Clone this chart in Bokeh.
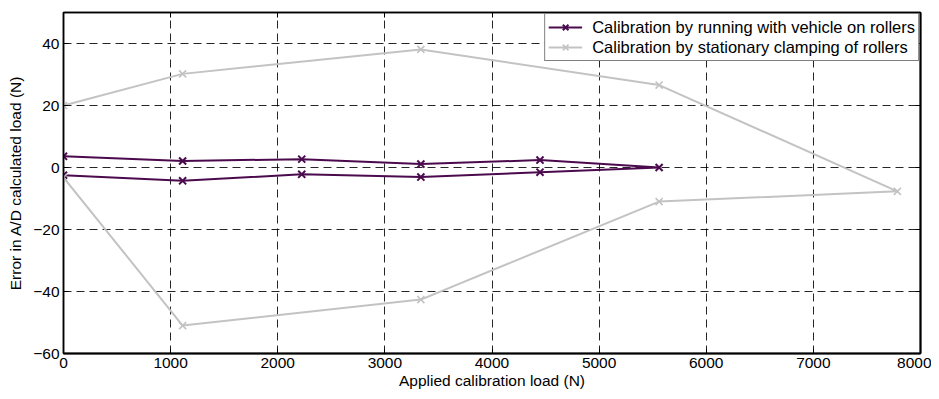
from bokeh.plotting import figure
from bokeh.models import LinearAxis, Range1d, FixedTicker, Legend, LegendItem, CustomJSTickFormatter
from bokeh.embed import file_html
from bokeh.resources import INLINE

# Loop order: outward (increasing load) then return (decreasing load)
run_x = [0, 1112, 2224, 3336, 4448, 5560, 4448, 3336, 2224, 1112, 0]
run_y = [3.6, 2.1, 2.7, 1.1, 2.4, 0.0, -1.5, -3.1, -2.2, -4.3, -2.5]

clamp_x = [0, 1112, 3336, 5560, 7784, 5560, 3336, 1112, 0]
clamp_y = [20.0, 30.2, 38.1, 26.6, -7.7, -11.0, -42.6, -51.0, -3.2]

x_ticks = [0, 1000, 2000, 3000, 4000, 5000, 6000, 7000, 8000]
y_ticks = [-60, -40, -20, 0, 20, 40]

FONT = "Liberation Sans"
PURPLE = "#4B0A4D"
GRAY = "#C3C3C3"

p = figure(width=931, height=391, output_backend="svg", toolbar_location=None,
           x_range=Range1d(0, 8000), y_range=Range1d(-60, 50),
           min_border_left=63, min_border_right=11, min_border_top=12, min_border_bottom=37)
p.outline_line_color = "black"
p.outline_line_width = 1.5
p.background_fill_color = "white"
p.border_fill_color = "white"

# grid
for g in (p.xgrid, p.ygrid):
    g.grid_line_color = "black"
    g.grid_line_dash = "8 5"
    g.grid_line_width = 1
    g.grid_line_alpha = 0.85
p.xgrid.ticker = FixedTicker(ticks=x_ticks)
p.ygrid.ticker = FixedTicker(ticks=y_ticks)

def style_axis(ax, ticks):
    ax.ticker = FixedTicker(ticks=ticks)
    ax.minor_tick_line_color = None
    ax.major_tick_in = 5
    ax.major_tick_out = 0
    ax.axis_line_color = "black"
    ax.axis_line_width = 1.5
    ax.major_tick_line_color = "black"
    ax.major_tick_line_width = 1
    ax.major_label_text_font = FONT
    ax.major_label_text_font_size = "15.5px"
    ax.major_label_text_color = "black"
    ax.axis_label_text_font = FONT
    ax.axis_label_text_font_size = "15.5px"
    ax.axis_label_text_font_style = "normal"
    ax.axis_label_text_color = "black"
    ax.major_label_standoff = 4

style_axis(p.xaxis[0], x_ticks)
style_axis(p.yaxis[0], y_ticks)
p.xaxis[0].axis_line_width = 2
p.xaxis[0].axis_label = "Applied calibration load (N)"
p.xaxis[0].axis_label_standoff = 1
p.yaxis[0].axis_label = "Error in A/D calculated load (N)"
p.yaxis[0].axis_label_standoff = 6

blank = CustomJSTickFormatter(code="return ''")
top_ax = LinearAxis(formatter=blank)
style_axis(top_ax, x_ticks)
top_ax.major_label_standoff = 0
p.add_layout(top_ax, "above")
right_ax = LinearAxis(formatter=CustomJSTickFormatter(code="return ''"))
style_axis(right_ax, y_ticks)
right_ax.major_label_standoff = 0
p.add_layout(right_ax, "right")
right_ax.axis_line_width = 2
top_ax.axis_line_width = 1.5

r1l = p.line(run_x, run_y, line_color=PURPLE, line_width=2)
r1m = p.scatter(run_x, run_y, marker="x", size=10, line_color=PURPLE, line_width=2)
r2l = p.line(clamp_x, clamp_y, line_color=GRAY, line_width=2)
r2m = p.scatter(clamp_x, clamp_y, marker="x", size=10, line_color=GRAY, line_width=1.6)

legend = Legend(items=[
    LegendItem(label="Calibration by running with vehicle on rollers", renderers=[r1l, r1m]),
    LegendItem(label="Calibration by stationary clamping of rollers", renderers=[r2l, r2m]),
], location="top_right")
legend.margin = 1
legend.padding = 3
legend.spacing = 0
legend.label_height = 20
legend.glyph_height = 20
legend.glyph_width = 34
legend.label_standoff = 10
legend.label_text_font = FONT
legend.label_text_font_size = "16.5px"
legend.label_text_color = "black"
legend.border_line_color = "black"
legend.border_line_width = 1
legend.background_fill_color = "white"
legend.background_fill_alpha = 1
p.add_layout(legend, "center")

open("out.html", "w").write(file_html(p, INLINE))
